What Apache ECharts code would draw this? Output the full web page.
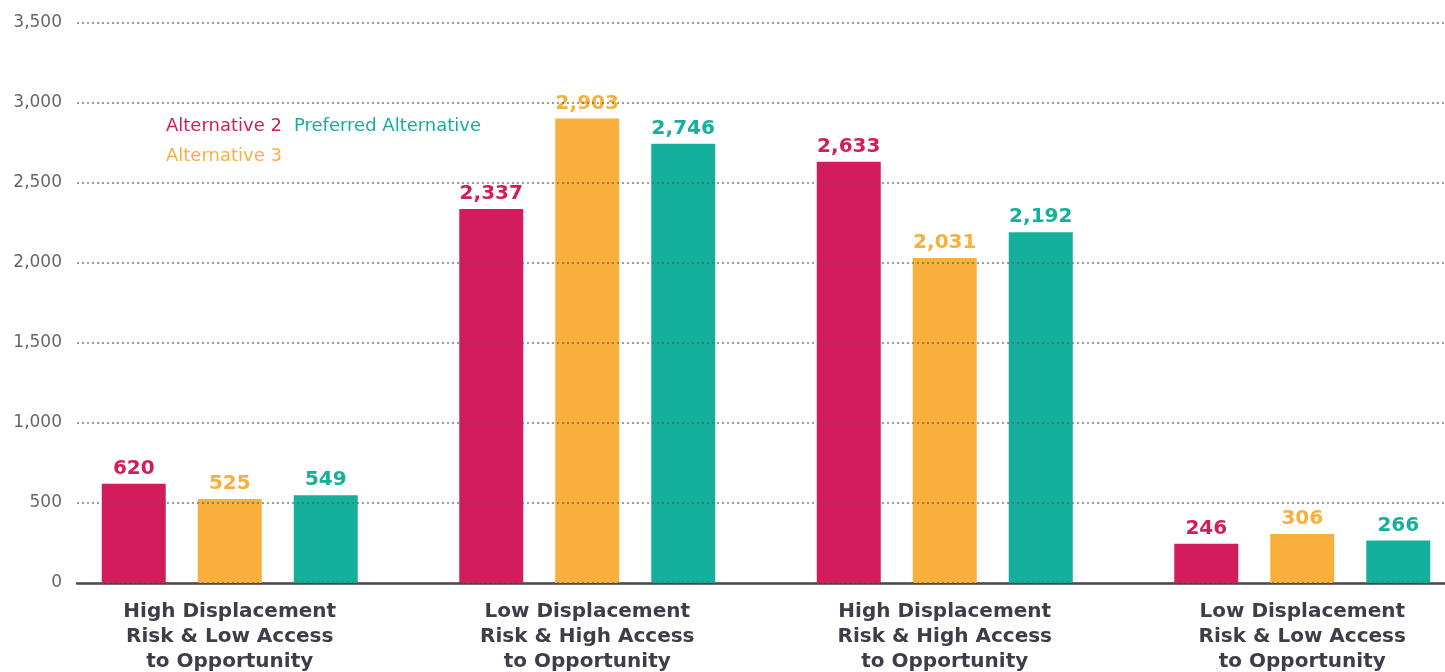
<!DOCTYPE html>
<html>
<head>
<meta charset="utf-8">
<script src="https://cdn.jsdelivr.net/npm/echarts@6/dist/echarts.min.js"></script>
<style>
  html, body { margin: 0; padding: 0; background: #fff; }
  #chart { width: 1445px; height: 672px; }
</style>
</head>
<body>
<div id="chart"></div>
<script>
const categories = [
  "High Displacement\nRisk & Low Access\nto Opportunity",
  "Low Displacement\nRisk & High Access\nto Opportunity",
  "High Displacement\nRisk & High Access\nto Opportunity",
  "Low Displacement\nRisk & Low Access\nto Opportunity",
];
const alternative2 = [620, 2337, 2633, 246];
const alternative3 = [525, 2903, 2031, 306];
const preferred = [549, 2746, 2192, 266];

const RED = "#d31c5b";
const ORANGE = "#f9af3c";
const TEAL = "#14b09b";
const FONT = "'DejaVu Sans', Verdana, sans-serif";

const fmt = (v) => Number(v).toLocaleString("en-US");

const chart = echarts.init(document.getElementById("chart"));

function barSeries(name, data, color) {
  return {
    name,
    type: "bar",
    xAxisIndex: 1,
    yAxisIndex: 1,
    data,
    barWidth: 64,
    barGap: "50%",
    itemStyle: { color },
    label: {
      show: true,
      position: "top",
      distance: 5,
      color,
      fontFamily: FONT,
      fontWeight: "bold",
      fontSize: 20,
      formatter: (p) => fmt(p.value),
    },
  };
}

function legendFor(name, color, left, top) {
  return {
    left,
    top,
    icon: "none",
    itemWidth: 0,
    itemGap: 0,
    selectedMode: false,
    data: [{ name, textStyle: { color } }],
    textStyle: { fontFamily: FONT, fontSize: 18 },
  };
}

chart.setOption({
  animation: false,
  legend: [
    legendFor("Alternative 2", RED, 156, 112),
    legendFor("Preferred Alternative", TEAL, 284, 112),
    legendFor("Alternative 3", ORANGE, 156, 142),
  ],
  grid: [
    // gridlines + axis line
    { left: 77, right: 0, top: 23, height: 560, outerBoundsMode: "none" },
    // bars: category bands run past the right edge
    { left: 51, right: -36, top: 23, height: 560, outerBoundsMode: "none" },
  ],
  xAxis: [
    {
      gridIndex: 0,
      type: "category",
      data: categories,
      axisLine: { lineStyle: { color: "#47434f", width: 2.5 } },
      axisTick: { show: false },
      axisLabel: { show: false },
    },
    {
      gridIndex: 1,
      type: "category",
      data: categories,
      axisLine: { show: false },
      axisTick: { show: false },
      axisLabel: {
        margin: 16,
        color: "#3f3d4a",
        fontFamily: FONT,
        fontWeight: "bold",
        fontSize: 20,
        lineHeight: 25,
        interval: 0,
      },
    },
  ],
  yAxis: [
    {
      gridIndex: 0,
      type: "value",
      min: 0,
      max: 3500,
      interval: 500,
      z: 5,
      axisLine: { show: false },
      axisTick: { show: false },
      axisLabel: {
        margin: 15,
        color: "#666",
        fontFamily: FONT,
        fontSize: 17,
        formatter: (v) => fmt(v),
      },
      splitLine: {
        show: true,
        lineStyle: { color: "rgba(90,90,90,0.6)", type: [2, 3], width: 2 },
      },
    },
    {
      gridIndex: 1,
      type: "value",
      min: 0,
      max: 3500,
      interval: 500,
      show: false,
      splitLine: { show: false },
    },
  ],
  series: [
    barSeries("Alternative 2", alternative2, RED),
    barSeries("Alternative 3", alternative3, ORANGE),
    barSeries("Preferred Alternative", preferred, TEAL),
  ],
});
</script>
</body>
</html>
